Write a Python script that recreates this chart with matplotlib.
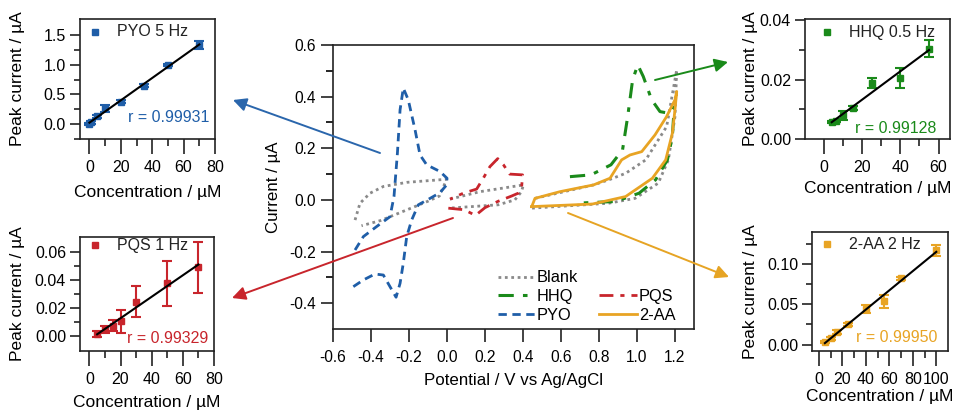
import numpy as np
import matplotlib
matplotlib.use("Agg")
import matplotlib.pyplot as plt
from matplotlib.patches import FancyArrowPatch
from matplotlib.lines import Line2D

plt.rcParams['font.family'] = ['Liberation Sans', 'DejaVu Sans']
plt.rcParams['axes.unicode_minus'] = False

# ---------------- colours ----------------
C_BLUE = '#1f5ea8'
C_RED = '#c8252c'
C_GREEN = '#1a8a1a'
C_ORANGE = '#e8a424'
C_GREY = '#8a8a8a'

# ---------------- CV data (Potential / V, Current / uA) ----------------
pyo_E = [-0.493, -0.440, -0.379, -0.335, -0.300, -0.268, -0.247, -0.230, -0.212, -0.186,
         -0.151, -0.089, -0.037, -0.002, 0.000, -0.037, -0.107, -0.142, -0.168, -0.204,
         -0.230, -0.247, -0.261, -0.279, -0.300, -0.370, -0.440, -0.484]
pyo_I = [-0.336, -0.310, -0.287, -0.291, -0.336, -0.377, -0.323, -0.245, -0.142, -0.078,
         -0.019, 0.006, 0.028, 0.058, 0.084, 0.110, 0.136, 0.174, 0.271, 0.388,
         0.433, 0.349, 0.181, 0.013, -0.065, -0.103, -0.142, -0.194]

pqs_E = [0.007, 0.090, 0.150, 0.200, 0.270, 0.340, 0.375, 0.393, 0.398, 0.330,
         0.297, 0.267, 0.226, 0.191, 0.156, 0.086, 0.016]
pqs_I = [-0.032, -0.038, -0.060, -0.030, -0.005, 0.015, 0.026, 0.052, 0.097, 0.100,
         0.136, 0.160, 0.129, 0.084, 0.042, 0.026, 0.003]

hhq_E = [0.647, 0.758, 0.863, 0.924, 0.951, 0.977, 1.004, 1.033, 1.077, 1.121, 1.165, 1.196,
         1.186, 1.160, 1.098, 1.011, 0.888, 0.674]
hhq_I = [0.090, 0.097, 0.136, 0.194, 0.323, 0.465, 0.523, 0.478, 0.388, 0.342, 0.336, 0.360,
         0.245, 0.155, 0.078, 0.026, -0.006, -0.013]

aa_E = [0.446, 0.463, 0.595, 0.771, 0.858, 0.919, 0.963, 1.025, 1.095, 1.156, 1.200, 1.209,
        1.200, 1.186, 1.151, 1.081, 0.940, 0.765, 0.446]
aa_I = [-0.026, 0.006, 0.032, 0.058, 0.084, 0.155, 0.174, 0.187, 0.252, 0.323, 0.388, 0.420,
        0.350, 0.258, 0.155, 0.084, 0.013, -0.016, -0.026]

blank1_E = [-0.484, -0.458, -0.405, -0.335, -0.212, -0.002, -0.018, -0.040, -0.100, -0.256, -0.350, -0.450]
blank1_I = [-0.078, -0.013, 0.026, 0.052, 0.068, 0.080, 0.052, 0.015, -0.005, -0.052, -0.080, -0.100]
blank2_E = [0.016, 0.174, 0.402, 0.392, 0.357, 0.269, 0.007]
blank2_I = [0.003, 0.032, 0.058, 0.032, 0.000, -0.019, -0.032]
blank3_E = [0.463, 0.771, 0.860, 0.940, 1.046, 1.156, 1.209, 1.200, 1.165, 1.112, 0.990, 0.849, 0.446]
blank3_I = [0.006, 0.058, 0.080, 0.103, 0.155, 0.284, 0.504, 0.323, 0.155, 0.065, 0.006, -0.013, -0.032]

# ---------------- calibration data ----------------
pyo_c = [0, 1, 5, 10, 20, 35, 50, 70]
pyo_ip = [0.00, 0.03, 0.13, 0.27, 0.38, 0.65, 1.00, 1.33]
pyo_err = [0.02, 0.02, 0.03, 0.06, 0.02, 0.03, 0.02, 0.07]

pqs_c = [5, 10, 15, 20, 30, 50, 70]
pqs_ip = [0.0015, 0.005, 0.0075, 0.0105, 0.0244, 0.0375, 0.0489]
pqs_err = [0.002, 0.0025, 0.004, 0.008, 0.011, 0.016, 0.018]

hhq_c = [4, 6, 10, 15, 25, 40, 55]
hhq_ip = [0.0058, 0.006, 0.0080, 0.0105, 0.0190, 0.0205, 0.0305]
hhq_err = [0.0003, 0.0003, 0.0015, 0.0007, 0.0017, 0.0034, 0.0028]

aa_c = [5, 10, 15, 25, 40, 55, 70, 100]
aa_ip = [0.003, 0.008, 0.0155, 0.025, 0.044, 0.054, 0.0825, 0.117]
aa_err = [0.001, 0.002, 0.002, 0.002, 0.005, 0.008, 0.002, 0.007]

W, H = 955, 411
fig = plt.figure(figsize=(W / 100, H / 100), dpi=100)


def rect(l, r, t, b):
    return [l / W, 1 - b / H, (r - l) / W, (b - t) / H]


def fpt(x, y):
    return (x / W, 1 - y / H)


# ---------------- main CV axes ----------------
ax = fig.add_axes(rect(333, 694, 45, 329))
blank_style = dict(color=C_GREY, lw=2.0, ls=(0, (1, 1.3)))
ax.plot(blank1_E, blank1_I, **blank_style)
ax.plot(blank2_E, blank2_I, **blank_style)
ax.plot(blank3_E, blank3_I, **blank_style)
ax.plot(pqs_E, pqs_I, color=C_RED, lw=2.0, ls=(0, (5, 2.5, 1.5, 2.5)))
ax.plot(pyo_E, pyo_I, color=C_BLUE, lw=2.0, ls=(0, (3, 2)))
ax.plot(hhq_E, hhq_I, color=C_GREEN, lw=2.2, ls=(0, (5, 3, 1.5, 3)))
ax.plot(aa_E, aa_I, color=C_ORANGE, lw=2.0, ls='-')

ax.set_xlim(-0.6, 1.3)
ax.set_ylim(-0.5, 0.6)
ax.set_xticks(np.arange(-0.6, 1.21, 0.2))
ax.set_xticklabels(['-0.6', '-0.4', '-0.2', '0.0', '0.2', '0.4', '0.6', '0.8', '1.0', '1.2'])
ax.set_yticks(np.arange(-0.4, 0.61, 0.2))
ax.set_yticklabels(['-0.4', '-0.2', '0.0', '0.2', '0.4', '0.6'])
ax.set_yticks([-0.3, -0.1, 0.1, 0.3, 0.5], minor=True)
ax.tick_params(axis='both', which='major', direction='out', labelsize=11.2, width=1.2, color='#222222')
ax.tick_params(axis='x', which='major', length=9, pad=6)
ax.tick_params(axis='y', which='major', length=9, pad=3)
ax.tick_params(axis='y', which='minor', length=5, width=1.2, direction='out')
for s in ax.spines.values():
    s.set_linewidth(1.2)
    s.set_color('#222222')
ax.set_xlabel('Potential / V vs Ag/AgCl', fontsize=12.2)
ax.xaxis.label.set_va('center')
ax.xaxis.set_label_coords(0.5, (329 - 380) / 284)
ax.set_ylabel('Current / µA', fontsize=12.2)
ax.yaxis.label.set_va('center')
ax.yaxis.set_label_coords((273 - 333) / 361, 0.5)

handles = [Line2D([], [], **blank_style),
           Line2D([], [], color=C_GREEN, lw=2.2, ls=(0, (5, 3, 1.5, 3))),
           Line2D([], [], color=C_BLUE, lw=2.0, ls=(0, (3, 2))),
           Line2D([], [], color='none'),
           Line2D([], [], color=C_RED, lw=2.0, ls=(0, (5, 2.5, 1.5, 2.5))),
           Line2D([], [], color=C_ORANGE, lw=2.0)]
labels = ['Blank', 'HHQ', 'PYO', '', 'PQS', '2-AA']
ax.legend(handles, labels, ncol=2, loc='lower right', bbox_to_anchor=(0.98, -0.018),
          frameon=False, fontsize=11.8, handlelength=2.3, handletextpad=0.1,
          columnspacing=1.3, labelspacing=0.22, borderpad=0.2)


# ---------------- inset calibration axes ----------------
def inset(r, c, ip, err, color, label, rtext, xlim, ylim, xmaj, xmin, ymaj, ymin, yfmt,
          ylab_x, xlab_y, leg_xy, r_xy):
    a = fig.add_axes(r)
    slope, icpt = np.polyfit(c, ip, 1)
    xs = np.array([min(c), max(c)])
    a.plot(xs, slope * xs + icpt, color='black', lw=1.5, zorder=3)
    a.errorbar(c, ip, yerr=err, fmt='s', color=color, ms=4, capsize=3.5,
               elinewidth=1.5, capthick=1.5, zorder=2)
    a.set_xlim(*xlim)
    a.set_ylim(*ylim)
    a.set_xticks(xmaj)
    a.set_xticks(xmin, minor=True)
    a.set_yticks(ymaj)
    a.set_yticklabels([yfmt.format(v) for v in ymaj])
    a.set_yticks(ymin, minor=True)
    a.tick_params(axis='both', which='both', direction='out', color='#222222', width=1.2)
    a.tick_params(axis='x', which='major', length=11, pad=4, labelsize=11.5)
    a.tick_params(axis='x', which='minor', length=5)
    a.tick_params(axis='y', which='major', length=7, pad=3, labelsize=11.5)
    a.tick_params(axis='y', which='minor', length=4)
    for s in a.spines.values():
        s.set_linewidth(1.2)
        s.set_color('#222222')
    a.set_xlabel('Concentration / µM', fontsize=12.5)
    a.xaxis.label.set_va('center')
    a.xaxis.set_label_coords(0.5, xlab_y)
    a.set_ylabel('Peak current / µA', fontsize=12.5)
    a.yaxis.label.set_va('center')
    a.yaxis.set_label_coords(ylab_x, 0.5)
    # legend-like label
    fig.add_artist(Line2D([leg_xy[0] / W], [1 - leg_xy[1] / H], marker='s', ms=4.5,
                          color=color, ls='none', transform=fig.transFigure))
    fig.text((leg_xy[0] + 22) / W, 1 - leg_xy[1] / H, label, fontsize=11.5,
             va='center', ha='left', color='#222222')
    fig.text(r_xy[0] / W, 1 - r_xy[1] / H, rtext, fontsize=11.5, va='center',
             ha='right', color=color)
    return a


inset(rect(80, 215, 19, 139), pyo_c, pyo_ip, pyo_err, C_BLUE, 'PYO 5 Hz', 'r = 0.99931',
      (-6, 80), (-0.25, 1.77), [0, 20, 40, 60, 80], [10, 30, 50, 70],
      [0.0, 0.5, 1.0, 1.5], [-0.25, 0.25, 0.75, 1.25], '{:.1f}',
      (17 - 80) / 135, (139 - 192) / 120, (95, 32), (209, 118))

inset(rect(80, 214, 237, 351), pqs_c, pqs_ip, pqs_err, C_RED, 'PQS 1 Hz', 'r = 0.99329',
      (-6, 80), (-0.0105, 0.0705), [0, 20, 40, 60, 80], [10, 30, 50, 70],
      [0.0, 0.02, 0.04, 0.06], [0.01, 0.03, 0.05], '{:.2f}',
      (17 - 80) / 134, (351 - 403) / 114, (95, 245), (208, 338))

inset(rect(805, 950, 19, 139), hhq_c, hhq_ip, hhq_err, C_GREEN, 'HHQ 0.5 Hz', 'r = 0.99128',
      (-10, 66), (0, 0.0405), [0, 20, 40, 60], [10, 30, 50],
      [0.0, 0.02, 0.04], [0.01, 0.03], '{:.2f}',
      (750 - 805) / 145, (139 - 189) / 120, (827, 32), (936, 128))

inset(rect(812, 948, 232, 351), aa_c, aa_ip, aa_err, C_ORANGE, '2-AA 2 Hz', 'r = 0.99950',
      (-6, 110), (-0.008, 0.14), [0, 20, 40, 60, 80, 100], [10, 30, 50, 70, 90],
      [0.0, 0.05, 0.10], [0.025, 0.075, 0.125], '{:.2f}',
      (750 - 812) / 136, (351 - 396) / 119, (827, 244), (937, 337))

# ---------------- arrows ----------------
arrows = [((380, 153), (233, 100), '#2a66ac'),
          ((453, 218), (232, 298), C_RED),
          ((655, 80), (728, 62), C_GREEN),
          ((568, 213), (729, 277), '#e6a424')]
for p0, p1, col in arrows:
    fig.add_artist(FancyArrowPatch(fpt(*p0), fpt(*p1), transform=fig.transFigure,
                                   arrowstyle='-|>', mutation_scale=20, color=col, lw=1.4,
                                   shrinkA=0, shrinkB=0))

fig.savefig('out.png', dpi=100)
